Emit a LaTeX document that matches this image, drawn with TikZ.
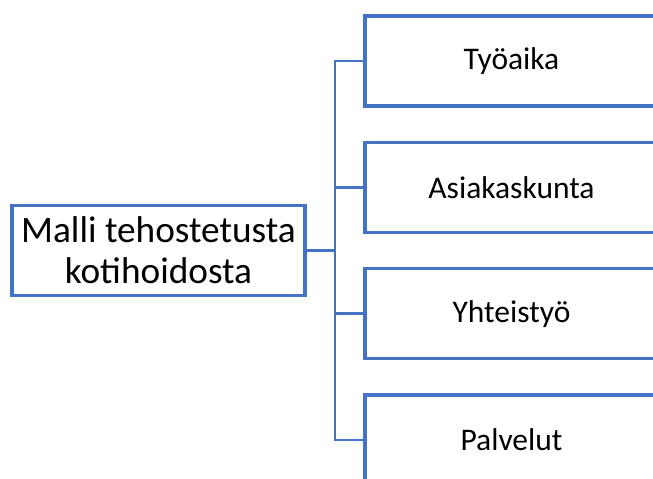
\documentclass[tikz,border=0pt]{standalone}
\usepackage{fontspec}
\setmainfont{Carlito}
\definecolor{officeblue}{RGB}{68,114,196}
\tikzset{
    box/.style={draw=officeblue, fill=white, line width=3.4pt, minimum width=293pt, minimum height=90pt, inner sep=0pt, align=center},
    conn/.style={draw=officeblue, line width=2.5pt}
}

\begin{document}
\begin{tikzpicture}[x=1pt,y=-1pt]
        \clip (0,0) rectangle (653,479);
        \fill[white] (0,0) rectangle (653,479);
        %main box
        \node[box, font=\fontsize{37.3}{41}\selectfont] (malli) at (158.5,250.5) {Malli tehostetusta\\kotihoidosta};
        %right boxes
        \node[box, font=\fontsize{31.5}{37}\selectfont] (t1) at (511.5,61) {Työaika};
        \node[box, font=\fontsize{31.5}{37}\selectfont] (t2) at (511.5,187.3) {Asiakaskunta};
        \node[box, font=\fontsize{31.5}{37}\selectfont] (t3) at (511.5,313.6) {Yhteistyö};
        \node[box, font=\fontsize{31.5}{37}\selectfont] (t4) at (511.5,440) {Palvelut};

        \coordinate (j) at (335,250.5);
        \draw[conn] (malli.east) -- (j);
        \draw[conn] (j) |- (t1.west);
        \draw[conn] (j) |- (t2.west);
        \draw[conn] (j) |- (t3.west);
        \draw[conn] (j) |- (t4.west);
    \end{tikzpicture}
\end{document}
